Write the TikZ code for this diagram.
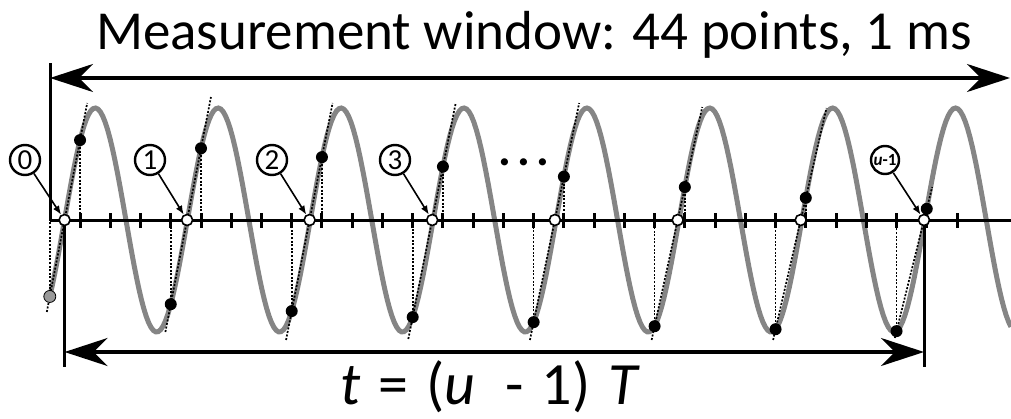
\documentclass[tikz,border=0pt]{standalone}
\usepackage{fontspec}
\setmainfont{Carlito}
\usepackage{tikz}
\usetikzlibrary{arrows.meta,positioning,calc}

\begin{document}
\begin{tikzpicture}[
  x=1pt, y=1pt,
  wave/.style={line width=5pt, black!48},
  axisline/.style={line width=3pt},
  dim/.style={{Stealth[length=43pt,width=28pt,inset=14pt]}-{Stealth[length=43pt,width=28pt,inset=14pt]}, line width=3.5pt},
  guide/.style={dash pattern=on 2pt off 1.6pt, line width=1.7pt},
  smp/.style={circle, fill=black, inner sep=0pt, minimum size=12pt},
  est/.style={circle, draw, fill=white, line width=1.6pt, inner sep=0pt, minimum size=11pt},
  lbl/.style={circle, draw, line width=2.4pt, inner sep=0pt, minimum size=30pt, font=\fontsize{29}{29}\selectfont},
  arr/.style={-{Latex[length=9pt,width=7pt]}, line width=1.6pt}
]
\useasboundingbox (0,-198) rectangle (1011,220);
\coordinate (O) at (0,0);
\coordinate (A) at (0,-132);
\coordinate (B) at (0,-147);
\coordinate (wl) at (50,142);
\coordinate (wr) at (1010,142);

\node[font=\fontsize{55}{60}\selectfont, anchor=base] (title) at (534,170) {Measurement window: 44 points, 1 ms};

\draw[wave] plot[domain=49.8:1011, samples=400] (\x, {112*sin(2.9292*(\x-64.5))});
\draw[axisline] (50,0) -- (1011,0);
\foreach \k in {1,...,30}
  \draw[axisline] ({49.8+30.24*\k},-7.5) -- ++(0,15);
\draw[axisline] (50,157) -- (50,0);
\draw[dim] (wl) -- (wr);

\foreach \n/\lend/\uend in {0/-92/117, 1/-112/123, 2/-120/117, 3/-119/117, 4/-120/117, 5/-120/113, 6/-120/112, 7/-118/33}{
  \pgfmathsetmacro{\xa}{49.8+120.96*\n}
  \pgfmathsetmacro{\xb}{\xa+30.24}
  \pgfmathsetmacro{\ya}{112*sin(2.9292*(\xa-64.5))}
  \pgfmathsetmacro{\yb}{112*sin(2.9292*(\xb-64.5))}
  \pgfmathsetmacro{\tz}{(\ya)/((\ya)-(\yb))}
  \pgfmathsetmacro{\tb}{((\lend)-(\ya))/((\yb)-(\ya))}
  \pgfmathsetmacro{\tu}{((\uend)-(\ya))/((\yb)-(\ya))}
  \coordinate (lo\n) at (\xa,\ya);
  \coordinate (hi\n) at (\xb,\yb);
  \coordinate (z\n) at ($(lo\n)!\tz!(hi\n)$);
  \draw[guide] ($(lo\n)!\tb!(hi\n)$) -- ($(lo\n)!\tu!(hi\n)$);
  \draw[guide] (lo\n) -- (lo\n |- O);
  \draw[guide] (hi\n) -- (hi\n |- O);
}

\draw[axisline] (z0) -- (z0 |- B);
\draw[axisline] (z7) -- (z7 |- B);
\draw[dim] (z0 |- A) -- (z7 |- A);

\node[smp, fill=black!40, draw, line width=0.8pt] (dl0) at (lo0) {};
\foreach \n in {1,...,7}
  \node[smp] (dl\n) at (lo\n) {};
\foreach \n in {0,...,7}
  \node[smp] (dh\n) at (hi\n) {};
\foreach \n in {0,...,7}
  \node[est] (e\n) at (z\n) {};

\node[lbl] (l0) at (25,60) {0};
\node[lbl] (l1) at (150,60) {1};
\node[lbl] (l2) at (272,60) {2};
\node[lbl] (l3) at (395,60) {3};
\node[font=\fontsize{48}{48}\bfseries\selectfont, anchor=base] (more) at (524,55) {.\kern6pt.\kern6pt.};
\node[lbl, minimum size=28pt, font=\fontsize{17}{17}\bfseries\selectfont] (l7) at (885,60) {\textit{u}-1};

\draw[arr] (l0) -- (e0);
\draw[arr] (l1) -- (e1);
\draw[arr] (l2) -- (e2);
\draw[arr] (l3) -- (e3);
\draw[arr] (l7) -- (e7);

\node[font=\fontsize{60}{60}\selectfont, anchor=base] (span) at (490,-184) {\textit{t}\hspace{18pt}=\hspace{18pt}(\textit{u}\hspace{30pt}-\hspace{18pt}1)\hspace{18pt}\textit{T}};
\end{tikzpicture}
\end{document}
